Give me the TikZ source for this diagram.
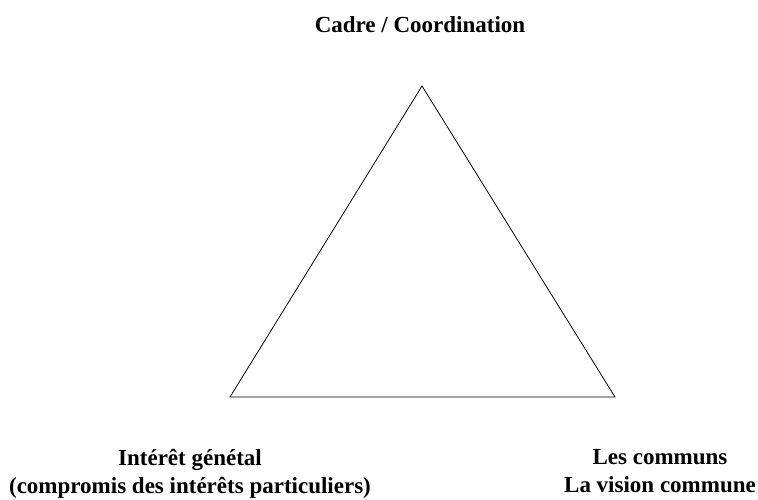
\documentclass[tikz,border=0pt]{standalone}
\usepackage{fontspec}
\setmainfont{Liberation Serif}
\usetikzlibrary{positioning}

\begin{document}
\begin{tikzpicture}[x=1pt, y=-1pt, every node/.style={inner sep=0pt, font=\fontsize{23}{28}\selectfont\bfseries, align=center}]
    \useasboundingbox (0,0) rectangle (758,500);
    % vertices
    \coordinate (top) at (422,86);
    \coordinate (left) at (230,397);
    \coordinate (right) at (615,397);
    
    % labels
    \node[anchor=base] (cadre) at (420,33) {Cadre / Coordination};
    \node (interet) at (190,474) {Intérêt génétal\\(compromis des intérêts particuliers)};
    \node (communs) at (660,471) {Les communs\\La vision commune};
    
    % edges
    \draw[line width=0.8pt] (top) -- (left) -- (right) -- cycle;
\end{tikzpicture}
\end{document}
